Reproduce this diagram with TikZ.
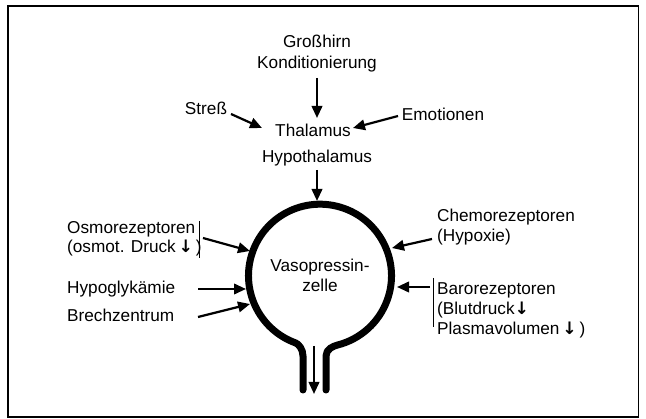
\documentclass[tikz,border=0pt]{standalone}
\usepackage{fontspec}
\setmainfont{Liberation Sans}
\newfontfamily\symfont{DejaVu Sans}
\usetikzlibrary{arrows.meta}
\newcommand{\myDown}{{\symfont\bfseries ↓}}
\begin{document}
\begin{tikzpicture}[x=1pt,y=1pt,
  lbl/.style={font=\fontsize{17.2}{20}\selectfont, inner sep=0pt},
  arr/.style={line width=2.2pt, -{Triangle[length=12pt,width=10.5pt]}},
  cell/.style={line width=7pt, line cap=round, line join=round},
  bar/.style={line width=0.9pt}]
\useasboundingbox (0,0) rectangle (646,-419);
\draw[line width=1.5pt] (8,-6) rectangle (638.5,-417);

% texts
\node[lbl, align=center, font=\fontsize{17.2}{21}\selectfont] (gross) at (317,-54) {Großhirn\\Konditionierung};
\node[lbl] (thal) at (313,-130) {Thalamus};
\node[lbl] (hypo) at (317,-158) {Hypothalamus};
\node[lbl] (stress) at (206,-108) {Streß};
\node[lbl] (emo) at (443,-114) {Emotionen};
\node[lbl, align=center] (vaso) at (320,-275) {Vasopressin-\\zelle};
\node[lbl, anchor=west, align=left, font=\fontsize{17.2}{18.5}\selectfont] (osmo) at (67,-239) {Osmorezeptoren\\(osmot. Druck\,\myDown\,)};
\node[lbl, anchor=west] (hypog) at (67,-289) {Hypoglykämie};
\node[lbl, anchor=west] (brech) at (67,-315) {Brechzentrum};
\node[lbl, anchor=west, align=left] (chemo) at (437,-227) {Chemorezeptoren\\(Hypoxie)};
\node[lbl, anchor=west, align=left, font=\fontsize{17.2}{20}\selectfont] (baro) at (437,-310) {Barorezeptoren\\(Blutdruck\myDown\\Plasmavolumen\,\myDown\,)};

% bars
\draw[bar] (199,-221) -- (199,-258);
\draw[bar] (433,-278) -- (433,-327);

% cell
\draw[cell] (303,-390) -- (303,-356) .. controls (303,-349) and (298.4,-343.9) .. (295.55,-342.9)
  arc[start angle=250, end angle=-76, radius=71.5]
  .. controls (333.4,-346.1) and (326,-349) .. (326,-356) -- (326,-390);

% coordinates
\coordinate (kS) at (317,-78);
\coordinate (kE) at (317,-118);
\coordinate (sS) at (231,-114);
\coordinate (sE) at (262,-128);
\coordinate (eS) at (398,-116);
\coordinate (eE) at (353,-128);
\coordinate (hS) at (317,-170);
\coordinate (cTop) at (317,-201);
\coordinate (oS) at (203,-238);
\coordinate (oE) at (250,-251);
\coordinate (gS) at (198,-289);
\coordinate (gE) at (246,-289);
\coordinate (bS) at (198,-317);
\coordinate (bE) at (250,-304);
\coordinate (chS) at (432,-239);
\coordinate (chE) at (392,-248);
\coordinate (baS) at (430,-287);
\coordinate (baE) at (397,-287);
\coordinate (nS) at (314,-346);
\coordinate (nE) at (314,-394);

\draw[arr] (kS) -- (kE);
\draw[arr] (sS) -- (sE);
\draw[arr] (eS) -- (eE);
\draw[arr] (hS) -- (cTop);
\draw[arr] (oS) -- (oE);
\draw[arr] (gS) -- (gE);
\draw[arr] (bS) -- (bE);
\draw[arr] (chS) -- (chE);
\draw[arr] (baS) -- (baE);
\draw[arr] (nS) -- (nE);
\end{tikzpicture}
\end{document}
